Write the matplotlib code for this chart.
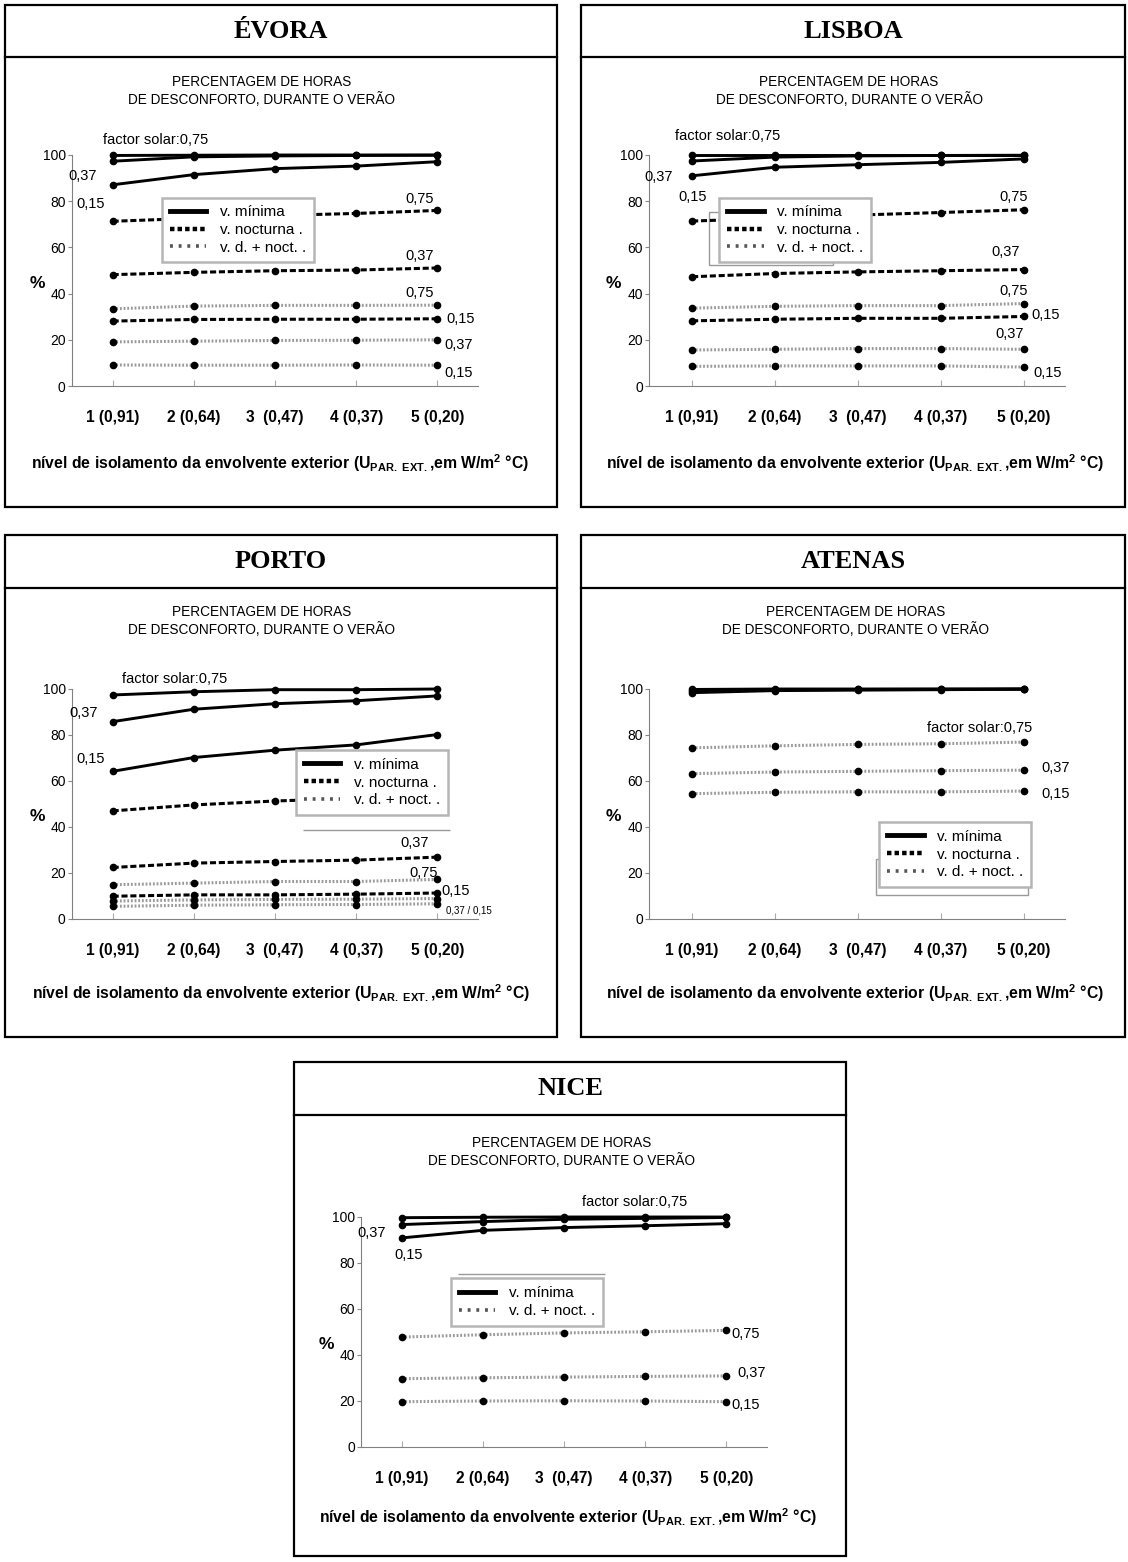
import matplotlib
matplotlib.use("Agg")
import matplotlib.pyplot as plt
from matplotlib import font_manager
from matplotlib.lines import Line2D
from matplotlib.patches import Rectangle

plt.rcParams['font.family'] = ['Liberation Sans', 'DejaVu Sans']
plt.rcParams['mathtext.fontset'] = 'custom'
plt.rcParams['mathtext.rm'] = 'Liberation Sans'
plt.rcParams['mathtext.bf'] = 'Liberation Sans:bold'

W, H = 1128, 1562

# --- dados (% de horas de desconforto) ---
NIVEIS = [1, 2, 3, 4, 5]
NIVEIS_LABELS = ["1 (0,91)", "2 (0,64)", "3  (0,47)", "4 (0,37)", "5 (0,20)"]
# cada lista: factor solar 0,75 / 0,37 / 0,15

EVORA_MINIMA = [[99.8, 99.9, 100.0, 100.0, 100.0],
                [97.3, 99.2, 99.6, 99.8, 99.9],
                [87.1, 91.5, 94.1, 95.2, 97.1]]
EVORA_NOCTURNA = [[71.3, 72.6, 73.8, 74.7, 76.0],
                  [48.2, 49.2, 49.9, 50.2, 51.1],
                  [28.1, 28.8, 28.9, 28.9, 29.1]]
EVORA_DIA_NOCT = [[33.4, 34.6, 34.9, 34.9, 35.0],
                  [19.1, 19.4, 19.7, 19.8, 20.0],
                  [9.1, 9.0, 9.0, 9.1, 9.0]]

LISBOA_MINIMA = [[100.0, 100.0, 100.0, 100.0, 100.0],
                 [97.4, 99.1, 99.6, 99.8, 99.9],
                 [91.0, 94.7, 95.8, 96.8, 98.3]]
LISBOA_NOCTURNA = [[71.4, 72.6, 74.0, 75.1, 76.3],
                   [47.3, 48.7, 49.4, 49.9, 50.4],
                   [28.2, 28.9, 29.3, 29.3, 30.1]]
LISBOA_DIA_NOCT = [[33.7, 34.5, 34.8, 34.8, 35.7],
                   [15.6, 15.9, 16.2, 16.2, 15.9],
                   [8.5, 8.7, 8.7, 8.7, 8.2]]

PORTO_MINIMA = [[97.4, 98.8, 99.7, 99.7, 100.0],
                [85.8, 91.2, 93.6, 94.9, 97.0],
                [64.2, 70.2, 73.4, 75.7, 80.2]]
PORTO_NOCTURNA = [[47.0, 49.6, 51.3, 52.5, 53.8],
                  [22.4, 24.3, 25.0, 25.6, 26.9],
                  [9.9, 10.5, 10.5, 10.8, 11.3]]
PORTO_DIA_NOCT = [[14.9, 15.6, 16.3, 16.3, 17.2],
                  [7.8, 8.3, 8.5, 8.6, 8.9],
                  [5.5, 6.0, 6.2, 6.3, 6.6]]

ATENAS_MINIMA = [[99.8, 100.0, 100.0, 100.0, 100.0],
                 [99.2, 99.6, 99.8, 99.9, 100.0],
                 [98.4, 99.3, 99.5, 99.7, 99.9]]
ATENAS_DIA_NOCT = [[74.4, 75.3, 75.9, 76.2, 76.9],
                   [63.2, 63.9, 64.2, 64.5, 64.7],
                   [54.5, 55.1, 55.3, 55.3, 55.6]]

NICE_MINIMA = [[99.7, 99.9, 100.0, 100.0, 100.0],
               [96.7, 98.0, 99.0, 99.4, 99.8],
               [90.9, 94.2, 95.4, 96.2, 97.1]]
NICE_DIA_NOCT = [[47.8, 48.8, 49.6, 50.1, 50.7],
                 [29.7, 30.1, 30.4, 30.7, 30.9],
                 [19.7, 20.0, 20.1, 20.0, 19.7]]

TITULO = "PERCENTAGEM DE HORAS\nDE DESCONFORTO, DURANTE O VERÃO"
XLABEL = (r"nível de isolamento da envolvente exterior "
          r"(U$_{\mathbf{PAR.\ EXT.}}$,em W/m$^{\mathbf{2}}$ °C)")

# o título do gráfico original usa uma fonte estreita
_nomes = {f.name for f in font_manager.fontManager.ttflist}
if "Liberation Sans Narrow" in _nomes:
    TITULO_FONTE, TITULO_TAM = "Liberation Sans Narrow", 11.8
else:
    TITULO_FONTE, TITULO_TAM = "Liberation Sans", 9.8

ESTILOS = {
    "minima": dict(color="black", lw=2.1, ls="-"),
    "nocturna": dict(color="black", lw=2.2, dashes=(2.0, 0.9)),
    "dia_noct": dict(color="#9a9a9a", lw=2.2, dashes=(0.6, 0.6)),
}
LEGENDA = {
    "minima": Line2D([], [], color="black", lw=3.5, label="v. mínima"),
    "nocturna": Line2D([], [], color="black", lw=3.2, dashes=(1.0, 0.7),
                       label="v. nocturna ."),
    "dia_noct": Line2D([], [], color="#555555", lw=2.6, dashes=(0.8, 1.6),
                       label="v. d. + noct. ."),
}

fig = plt.figure(figsize=(W / 100, H / 100), dpi=100)


def fx(x):
    return x / W


def fy(y):
    return 1 - y / H


def caixa(x0, y0, x1, y1, ysep, nome):
    fig.add_artist(Rectangle((fx(x0), fy(y1)), fx(x1 - x0), (y1 - y0) / H,
                             transform=fig.transFigure, fill=False,
                             ec="black", lw=1.6))
    fig.add_artist(Line2D([fx(x0), fx(x1)], [fy(ysep), fy(ysep)],
                          transform=fig.transFigure, color="black", lw=1.6))
    fig.text(fx((x0 + x1) / 2), fy((y0 + ysep) / 2), nome, ha="center",
             va="center", family="Liberation Serif", weight="bold", fontsize=19)


def painel(ax_px, xlim, series, rotulos, leg, leg_keys, titulo_xy, xlabel_xy,
           fantasma=None):
    x0, y0, x1, y1 = ax_px
    ax = fig.add_axes([fx(x0), fy(y1), fx(x1 - x0), (y1 - y0) / H])
    for chave, dados in series:
        for valores in dados:
            ax.plot(NIVEIS, valores, marker="o", ms=4.5, mfc="black",
                    mec="black", clip_on=False, zorder=3, **ESTILOS[chave])
    ax.set_xlim(*xlim)
    ax.set_ylim(0, 100)
    ax.set_yticks([0, 20, 40, 60, 80, 100])
    ax.set_xticks(NIVEIS)
    ax.set_xticklabels(NIVEIS_LABELS, fontsize=11.2, weight="bold")
    ax.tick_params(axis="x", direction="in", length=4, color="#aaaaaa", pad=17)
    ax.tick_params(axis="y", direction="out", length=3, color="#888888",
                   labelsize=10, pad=1.5)
    for s in ("top", "right"):
        ax.spines[s].set_visible(False)
    for s in ("left", "bottom"):
        ax.spines[s].set_color("#808080")
    ax.text(-0.085, 0.445, "%", transform=ax.transAxes, ha="center",
            va="center", weight="bold", fontsize=12.5)
    for txt, x, y, ha, tam in rotulos:
        ax.text(x, y, txt, ha=ha, va="center", fontsize=tam, clip_on=False,
                zorder=6)
    if fantasma is not None:
        for fx0, fy0, fw, fh in fantasma:
            ax.add_patch(Rectangle((fx0, fy0), fw, fh, fill=False,
                                   ec="#999999", lw=1.0, clip_on=False,
                                   zorder=1))
    lg = ax.legend(handles=[LEGENDA[k] for k in leg_keys], loc="upper left",
                   bbox_to_anchor=leg, bbox_transform=ax.transData,
                   borderaxespad=0, fontsize=11, handlelength=2.4,
                   handletextpad=0.9, borderpad=0.5, labelspacing=0.25,
                   fancybox=False, framealpha=1)
    lg.get_frame().set_edgecolor("#b5b5b5")
    lg.get_frame().set_linewidth(1.8)
    lg.set_zorder(5)
    fig.text(fx(titulo_xy[0]), fy(titulo_xy[1]), TITULO, ha="center",
             va="center", fontsize=TITULO_TAM, family=TITULO_FONTE,
             multialignment="center", linespacing=1.2)
    fig.text(fx(xlabel_xy[0]), fy(xlabel_xy[1]), XLABEL, ha="center",
             va="center", fontsize=11.3, weight="bold")
    return ax


# --- ÉVORA ---
caixa(5, 5, 557, 507, 57, "ÉVORA")
painel((72, 155, 478, 386), (0.5, 5.5),
       [("minima", EVORA_MINIMA), ("nocturna", EVORA_NOCTURNA),
        ("dia_noct", EVORA_DIA_NOCT)],
       [("factor solar:0,75", 0.88, 106.4, "left", 10.5),
        ("0,37", 0.46, 91.0, "left", 10.5), ("0,15", 0.56, 79.0, "left", 10.5),
        ("0,75", 4.96, 81.0, "right", 10.5), ("0,37", 4.96, 56.4, "right", 10.5),
        ("0,75", 4.96, 40.4, "right", 10.5), ("0,15", 5.11, 29.2, "left", 10.5),
        ("0,37", 5.08, 17.7, "left", 10.5), ("0,15", 5.08, 5.8, "left", 10.5)],
       (1.61, 81.6), ["minima", "nocturna", "dia_noct"],
       (262, 91), (280, 463))

# --- LISBOA ---
caixa(581, 5, 1125, 507, 57, "LISBOA")
painel((649, 155, 1065, 386), (0.48, 5.5),
       [("minima", LISBOA_MINIMA), ("nocturna", LISBOA_NOCTURNA),
        ("dia_noct", LISBOA_DIA_NOCT)],
       [("factor solar:0,75", 0.79, 108.4, "left", 10.5),
        ("0,37", 0.43, 90.5, "left", 10.5), ("0,15", 0.83, 81.8, "left", 10.5),
        ("0,75", 5.05, 81.8, "right", 10.5), ("0,37", 4.95, 57.8, "right", 10.5),
        ("0,75", 5.05, 41.2, "right", 10.5), ("0,15", 5.1, 30.8, "left", 10.5),
        ("0,37", 5.0, 22.5, "right", 10.5), ("0,15", 5.12, 5.5, "left", 10.5)],
       (1.33, 81.6), ["minima", "nocturna", "dia_noct"],
       (849, 91), (855, 463), fantasma=[(1.2, 52.5, 1.5, 22.8)])

# --- PORTO ---
caixa(5, 535, 557, 1037, 588, "PORTO")
painel((72, 689, 478, 919), (0.5, 5.5),
       [("minima", PORTO_MINIMA), ("nocturna", PORTO_NOCTURNA),
        ("dia_noct", PORTO_DIA_NOCT)],
       [("factor solar:0,75", 1.12, 104.5, "left", 10.5),
        ("0,37", 0.47, 89.6, "left", 10.5), ("0,15", 0.56, 69.5, "left", 10.5),
        ("0,37", 4.9, 32.9, "right", 10.5), ("0,75", 5.01, 20.2, "right", 10.5),
        ("0,15", 5.05, 12.0, "left", 10.5),
        ("0,37 / 0,15", 5.1, 3.6, "left", 7)],
       (3.26, 73.4), ["minima", "nocturna", "dia_noct"],
       (262, 621), (281, 993), fantasma=[(3.34, 38.7, 1.81, 0.0)])

# --- ATENAS ---
caixa(581, 535, 1125, 1037, 588, "ATENAS")
painel((649, 689, 1065, 919), (0.48, 5.5),
       [("minima", ATENAS_MINIMA), ("dia_noct", ATENAS_DIA_NOCT)],
       [("factor solar:0,75", 5.11, 83.2, "right", 10.5),
        ("0,37", 5.22, 65.5, "left", 10.5), ("0,15", 5.22, 54.3, "left", 10.5)],
       (3.26, 42.1), ["minima", "nocturna", "dia_noct"],
       (856, 621), (855, 993), fantasma=[(3.22, 10.3, 1.83, 15.7)])

# --- NICE ---
caixa(294, 1062, 846, 1556, 1115, "NICE")
painel((361, 1217, 767, 1447), (0.5, 5.5),
       [("minima", NICE_MINIMA), ("dia_noct", NICE_DIA_NOCT)],
       [("factor solar:0,75", 3.22, 106.7, "left", 10.5),
        ("0,37", 0.46, 93.2, "left", 10.5), ("0,15", 0.91, 83.5, "left", 10.5),
        ("0,75", 5.06, 49.0, "left", 10.5), ("0,37", 5.13, 32.0, "left", 10.5),
        ("0,15", 5.06, 18.3, "left", 10.5)],
       (1.61, 73.3), ["minima", "dia_noct"],
       (562, 1152), (568, 1517), fantasma=[(1.70, 75.1, 1.81, 0.0)])

fig.savefig("out.png", dpi=100)
